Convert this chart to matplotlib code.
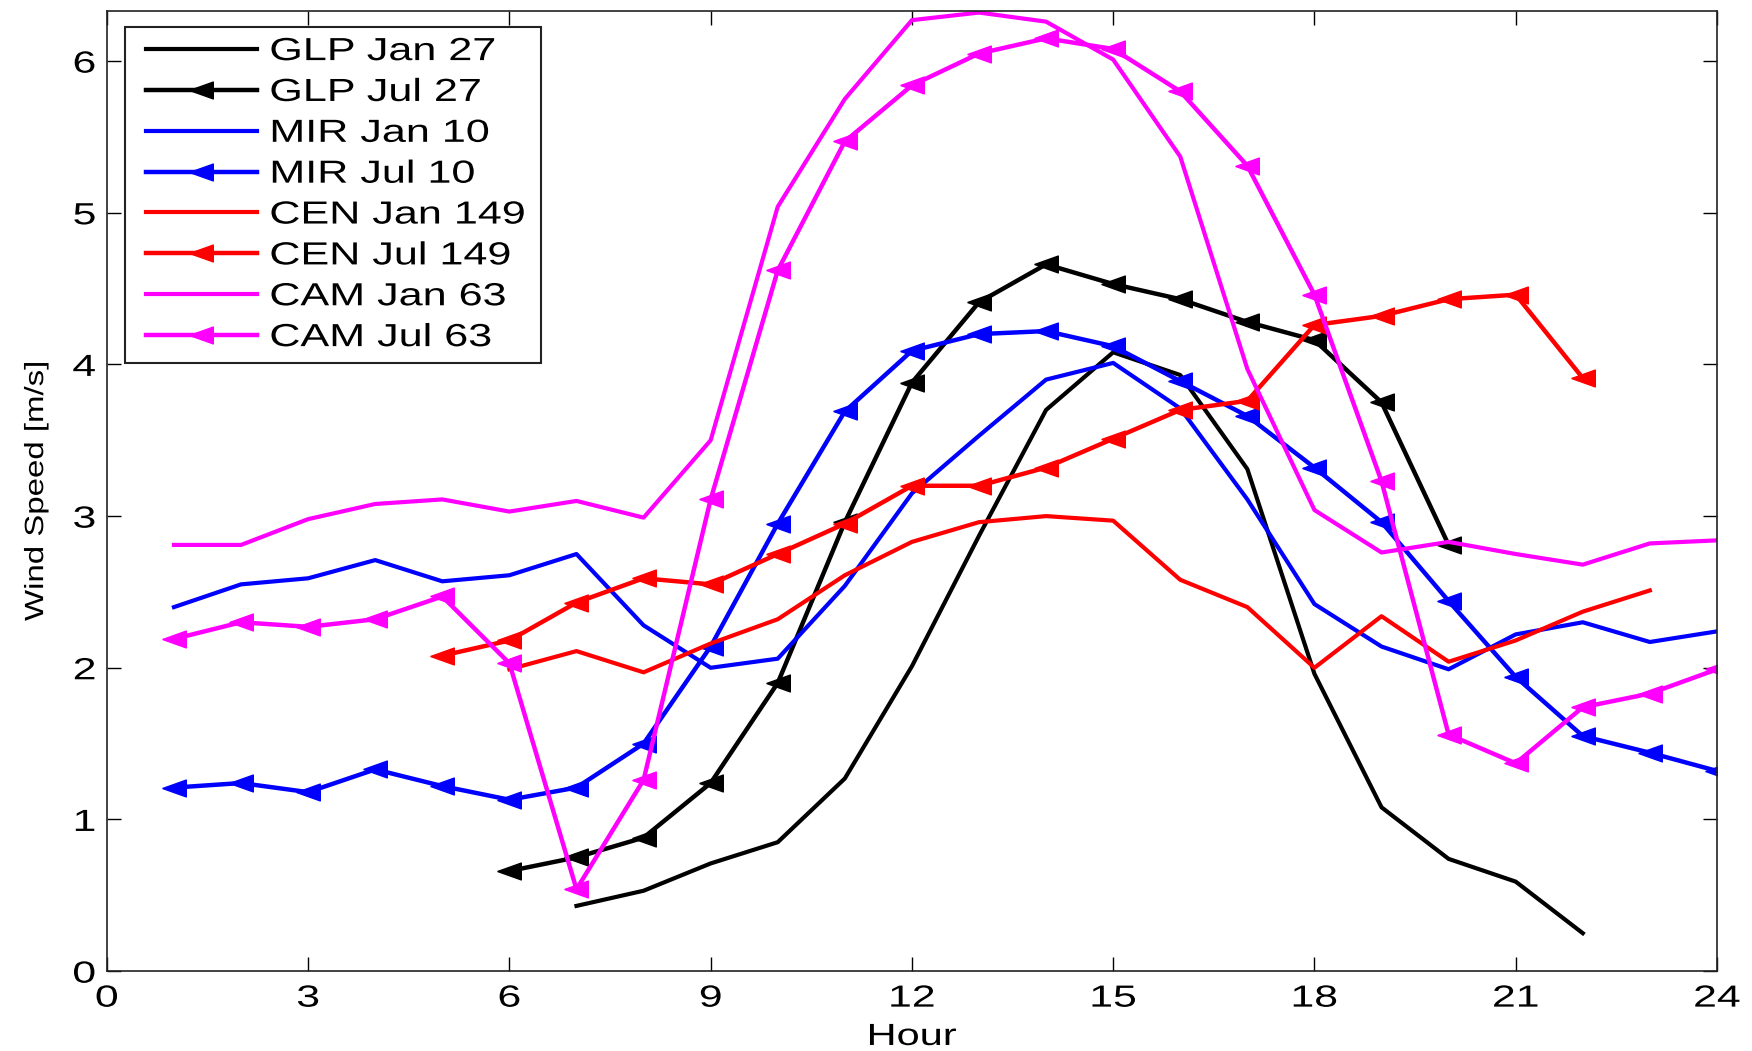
import matplotlib
matplotlib.use("Agg")
import matplotlib.pyplot as plt
from matplotlib.lines import Line2D
from matplotlib.legend_handler import HandlerLine2D
from matplotlib.patheffects import AbstractPathEffect
from matplotlib.transforms import Affine2D
import numpy as np

plt.rcParams["font.family"] = ["Liberation Sans", "DejaVu Sans"]

# hourly mean wind speed, m/s
glp_jan_hours = list(range(7, 23))
glp_jan = [0.43, 0.53, 0.71, 0.85, 1.27, 2.01, 2.87, 3.70, 4.08, 3.93, 3.31, 1.96, 1.08, 0.74, 0.59, 0.25]

glp_jul_hours = list(range(6, 21))
glp_jul = [0.66, 0.75, 0.88, 1.24, 1.90, 2.96, 3.88, 4.41, 4.66, 4.53, 4.43, 4.28, 4.16, 3.75, 2.81]

mir_jan_hours = list(range(1, 25))
mir_jan = [2.40, 2.55, 2.59, 2.71, 2.57, 2.61, 2.75, 2.28, 2.00, 2.06, 2.54, 3.15,
           3.53, 3.90, 4.01, 3.71, 3.11, 2.42, 2.14, 1.99, 2.22, 2.30, 2.17, 2.24]

mir_jul_hours = list(range(1, 25))
mir_jul = [1.21, 1.24, 1.18, 1.33, 1.22, 1.13, 1.21, 1.50, 2.14, 2.95, 3.69, 4.09,
           4.20, 4.22, 4.12, 3.89, 3.66, 3.32, 2.96, 2.44, 1.94, 1.55, 1.44, 1.32]

cen_jan_hours = list(range(6, 24))
cen_jan = [1.99, 2.11, 1.97, 2.16, 2.32, 2.61, 2.83, 2.96, 3.00, 2.97, 2.58, 2.40,
           2.00, 2.34, 2.04, 2.18, 2.37, 2.51]

cen_jul_hours = list(range(5, 23))
cen_jul = [2.08, 2.18, 2.43, 2.59, 2.55, 2.75, 2.95, 3.20, 3.20, 3.32, 3.51, 3.70,
           3.76, 4.26, 4.32, 4.43, 4.46, 3.91]

cam_jan_hours = list(range(1, 25))
cam_jan = [2.81, 2.81, 2.98, 3.08, 3.11, 3.03, 3.10, 2.99, 3.50, 5.04, 5.75, 6.27,
           6.32, 6.26, 6.01, 5.37, 3.97, 3.04, 2.76, 2.83, 2.75, 2.68, 2.82, 2.84]

cam_jul_hours = list(range(1, 25))
cam_jul = [2.19, 2.30, 2.27, 2.32, 2.47, 2.03, 0.54, 1.26, 3.11, 4.62, 5.47, 5.84,
           6.05, 6.15, 6.08, 5.80, 5.31, 4.46, 3.23, 1.56, 1.37, 1.74, 1.83, 1.99]

series = [
    ("GLP Jan 27", glp_jan_hours, glp_jan, "black", False),
    ("GLP Jul 27", glp_jul_hours, glp_jul, "black", True),
    ("MIR Jan 10", mir_jan_hours, mir_jan, "#0000ff", False),
    ("MIR Jul 10", mir_jul_hours, mir_jul, "#0000ff", True),
    ("CEN Jan 149", cen_jan_hours, cen_jan, "#ff0000", False),
    ("CEN Jul 149", cen_jul_hours, cen_jul, "#ff0000", True),
    ("CAM Jan 63", cam_jan_hours, cam_jan, "#ff00ff", False),
    ("CAM Jul 63", cam_jul_hours, cam_jul, "#ff00ff", True),
]


class Widen(AbstractPathEffect):
    """Stretch text glyphs horizontally around a fixed anchor."""

    def __init__(self, sx, anchor="left"):
        super().__init__()
        self.sx = sx
        self.anchor = anchor

    def draw_path(self, renderer, gc, tpath, affine, rgbFace=None):
        ext = tpath.get_extents()
        x0 = {"left": 0.0, "center": 0.5 * (ext.x0 + ext.x1), "right": ext.x1}[self.anchor]
        stretch = Affine2D().translate(-x0, 0).scale(self.sx, 1).translate(x0, 0)
        renderer.draw_path(gc, tpath, stretch + affine, rgbFace)


class InsetLine(HandlerLine2D):
    # legend line starts a little in from the frame
    def get_xdata(self, legend, xdescent, ydescent, width, height, fontsize):
        x0 = -xdescent + 0.35 * fontsize
        x1 = -xdescent + width
        return np.array([x0, x1]), np.array([0.5 * (x0 + x1)])


# wide left-pointing triangle
tri_left = [(-1.4, 0), (1.4, -1), (1.4, 1), (-1.4, 0)]

fig = plt.figure(figsize=(17.52, 10.51), dpi=100)
ax = fig.add_axes([0.061, 0.076, 0.919, 0.9135])

for label, hours, speed, color, jul in series:
    if jul:
        ax.plot(hours, speed, color=color, lw=3.2, marker=tri_left, ms=17,
                markerfacecolor=color, markeredgecolor=color, markeredgewidth=1,
                label=label)
    else:
        ax.plot(hours, speed, color=color, lw=3, label=label)

ax.set_xlim(0, 24)
ax.set_ylim(0, 6.33)
ax.set_xticks(np.arange(0, 25, 3))
ax.set_yticks(np.arange(0, 7, 1))
ax.tick_params(direction="in", top=True, right=True, length=10, width=1,
               labelsize=22)
ax.tick_params(axis="x", pad=9)
ax.tick_params(axis="y", pad=8)
for s in ax.spines.values():
    s.set_linewidth(1.2)
    s.set_color("#222222")

for lbl in ax.get_xticklabels():
    lbl.set_path_effects([Widen(1.4, "center")])
for lbl in ax.get_yticklabels():
    lbl.set_path_effects([Widen(1.4, "right")])

xl = ax.set_xlabel("Hour", fontsize=22, labelpad=6)
xl.set_path_effects([Widen(1.36, "center")])
yl = ax.set_ylabel("Wind Speed [m/s]", fontsize=19, labelpad=22)
yl.set_path_effects([Widen(1.25, "center")])

handles, labels = ax.get_legend_handles_labels()
pad = " " * 8
leg = ax.legend(handles, [lab + pad for lab in labels],
                loc="upper left", bbox_to_anchor=(0.0112, 0.9835), borderaxespad=0,
                fontsize=23, handlelength=3.8, handletextpad=0.4,
                labelspacing=0.34, borderpad=0.32, numpoints=1,
                fancybox=False, framealpha=1, edgecolor="#222222",
                handler_map={Line2D: InsetLine()})
leg.get_frame().set_linewidth(1.5)
for t in leg.get_texts():
    t.set_path_effects([Widen(1.35, "left")])

fig.savefig("out.png", dpi=100, facecolor="white")
